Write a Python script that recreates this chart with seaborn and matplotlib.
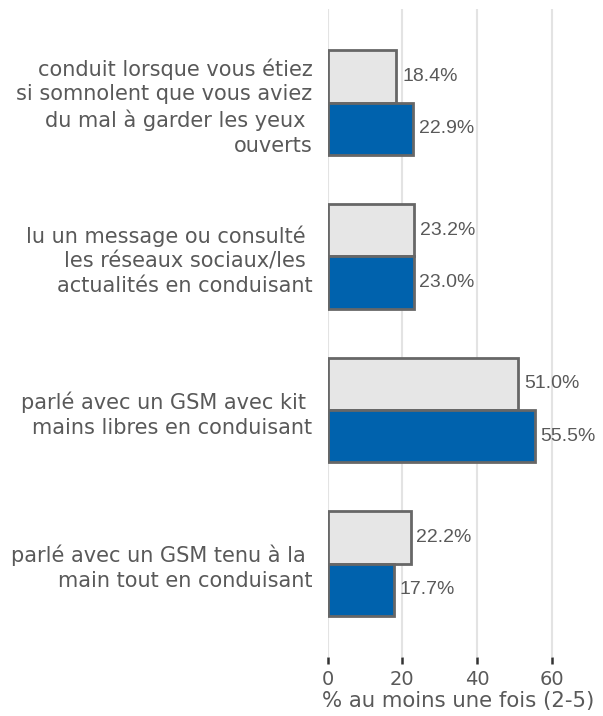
import matplotlib
matplotlib.use("Agg")
import matplotlib.pyplot as plt
import seaborn as sns
import pandas as pd

categories = [
    "conduit lorsque vous étiez\nsi somnolent que vous aviez\ndu mal à garder les yeux \nouverts",
    "lu un message ou consulté \nles réseaux sociaux/les \nactualités en conduisant",
    "parlé avec un GSM avec kit \nmains libres en conduisant",
    "parlé avec un GSM tenu à la \nmain tout en conduisant",
]
series_names = ["Série 1", "Série 2"]
values_series1 = [18.4, 23.2, 51.0, 22.2]
values_series2 = [22.9, 23.0, 55.5, 17.7]
x_ticks = [0, 20, 40, 60]
x_label = "% au moins une fois (2-5)"

df = pd.DataFrame({
    "cat": categories * 2,
    "serie": [series_names[0]] * 4 + [series_names[1]] * 4,
    "val": values_series1 + values_series2,
})

sns.set_theme(style="white")
plt.rcParams['font.family'] = ['DejaVu Sans']

TXT = "#595959"
fig = plt.figure(figsize=(6.03, 7.16), dpi=100)
ax = fig.add_axes([0.5435, 0.0824, 0.4336, 0.9046])

sns.barplot(data=df, y="cat", x="val", hue="serie", orient="h",
            palette=["#e6e6e6", "#0062ad"], width=0.68,
            edgecolor="#676767", linewidth=2, saturation=1,
            legend=False, ax=ax, order=categories, hue_order=series_names)

for c in ax.containers:
    ax.bar_label(c, fmt="%.1f%%", padding=4, fontsize=14, color=TXT,
                 family=['Liberation Sans', 'DejaVu Sans'])

ax.set_xlim(0, 70)
ax.set_ylim(3.607, -0.607)
ax.set_xticks(x_ticks)
ax.xaxis.grid(True, color="#e3e3e3", linewidth=1.5)
ax.set_axisbelow(True)
for s in ax.spines.values():
    s.set_visible(False)
ax.tick_params(axis="x", length=5, width=1.8, color="#333333", labelsize=14,
               labelcolor=TXT, pad=4, bottom=True)
ax.tick_params(axis="y", length=0, pad=11, labelsize=15, labelcolor=TXT)
for lab in ax.get_yticklabels():
    lab.set_horizontalalignment("right")
    lab.set_multialignment("right")
    lab.set_linespacing(1.3)
ax.set_ylabel("")
ax.set_xlabel(x_label, fontsize=15.3, color=TXT, labelpad=2)

fig.savefig("out.png", dpi=100)
